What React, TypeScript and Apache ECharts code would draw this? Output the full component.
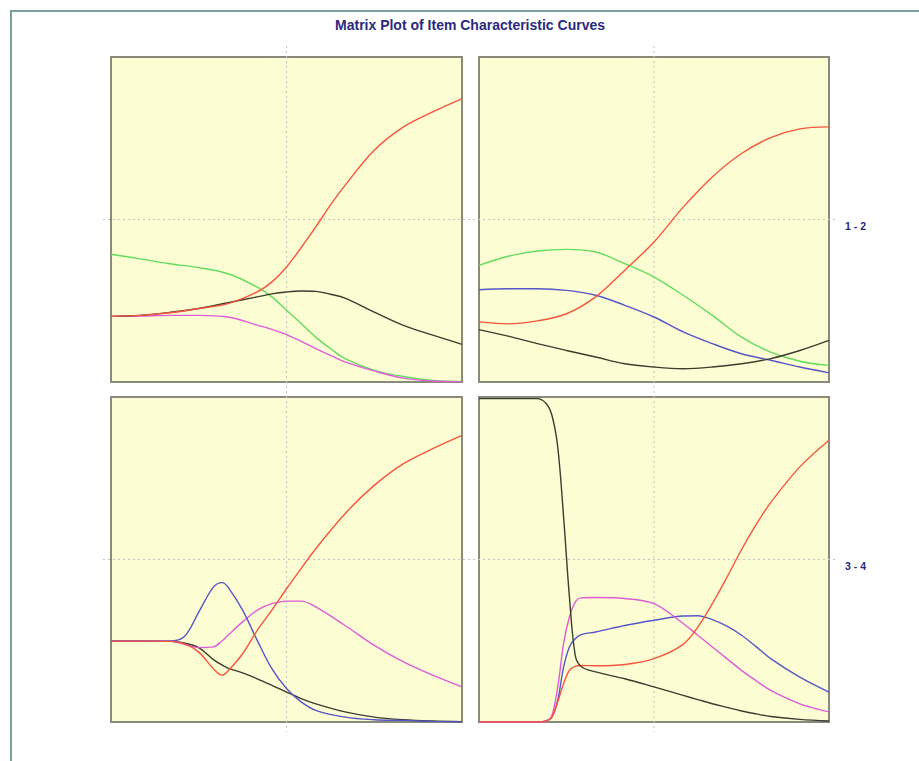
import React, { useEffect, useRef } from "react";
import * as echarts from "echarts";

// ---------- data ----------
const TITLE = "Matrix Plot of Item Characteristic Curves";
const ROW_LABELS = ["1 - 2", "3 - 4"];

// Panel 1 (top-left)
const P1_X = [-3, -2.5, -2, -1.5, -1, -0.5, -0.25, 0, 0.25, 0.5, 0.75, 1, 1.5, 2, 2.5, 3];
const P1_RED = [0.202, 0.205, 0.213, 0.226, 0.241, 0.277, 0.308, 0.354, 0.413, 0.477, 0.544, 0.605, 0.713, 0.785, 0.831, 0.872];
const P1_GREEN = [0.393, 0.379, 0.364, 0.352, 0.333, 0.292, 0.262, 0.221, 0.18, 0.138, 0.103, 0.072, 0.036, 0.017, 0.005, 0.002];
const P1_BLACK = [0.202, 0.205, 0.214, 0.226, 0.244, 0.262, 0.271, 0.277, 0.28, 0.279, 0.27, 0.258, 0.215, 0.174, 0.144, 0.116];
const P1_MAGENTA = [0.202, 0.203, 0.205, 0.205, 0.2, 0.175, 0.162, 0.146, 0.125, 0.103, 0.082, 0.062, 0.034, 0.012, 0.003, 0.0];

// Panel 2 (top-right)
const P2_X = [-3, -2.5, -2, -1.5, -1, -0.5, 0, 0.5, 1, 1.5, 2, 2.5, 3];
const P2_RED = [0.185, 0.179, 0.188, 0.21, 0.262, 0.344, 0.431, 0.538, 0.631, 0.703, 0.752, 0.779, 0.785];
const P2_GREEN = [0.359, 0.387, 0.403, 0.408, 0.4, 0.364, 0.323, 0.267, 0.205, 0.138, 0.092, 0.064, 0.051];
const P2_BLUE = [0.284, 0.287, 0.287, 0.282, 0.267, 0.236, 0.2, 0.154, 0.118, 0.087, 0.067, 0.046, 0.028];
const P2_BLACK = [0.161, 0.141, 0.118, 0.097, 0.077, 0.056, 0.046, 0.041, 0.046, 0.056, 0.072, 0.097, 0.128];

// Panel 3 (bottom-left)
const P3_X = [-3, -2.5, -2, -1.75, -1.5, -1.25, -1.1, -1, -0.75, -0.5, -0.25, 0, 0.25, 0.5, 1, 1.5, 2, 2.5, 3];
const P3_RED = [0.249, 0.249, 0.248, 0.241, 0.215, 0.164, 0.144, 0.157, 0.21, 0.282, 0.344, 0.41, 0.472, 0.533, 0.641, 0.728, 0.795, 0.841, 0.882];
const P3_BLUE = [0.249, 0.249, 0.249, 0.262, 0.338, 0.415, 0.429, 0.415, 0.344, 0.251, 0.164, 0.103, 0.062, 0.036, 0.015, 0.007, 0.005, 0.002, 0.0];
const P3_MAGENTA = [0.249, 0.249, 0.249, 0.239, 0.229, 0.231, 0.25, 0.267, 0.308, 0.344, 0.364, 0.372, 0.372, 0.354, 0.297, 0.236, 0.185, 0.144, 0.108];
const P3_BLACK = [0.249, 0.249, 0.249, 0.243, 0.229, 0.192, 0.175, 0.166, 0.151, 0.133, 0.113, 0.092, 0.072, 0.056, 0.031, 0.015, 0.007, 0.003, 0.001];

// Panel 4 (bottom-right)
const P4_X = [-3, -2.5, -2, -1.85, -1.75, -1.65, -1.55, -1.45, -1.35, -1.25, -1, -0.5, 0, 0.5, 0.75, 1, 1.25, 1.5, 1.75, 2, 2.5, 3];
const P4_BLACK = [0.995, 0.995, 0.995, 0.98, 0.944, 0.846, 0.631, 0.385, 0.205, 0.171, 0.154, 0.133, 0.108, 0.082, 0.069, 0.056, 0.045, 0.034, 0.025, 0.017, 0.008, 0.003];
const P4_RED = [0.0, 0.0, 0.0, 0.003, 0.015, 0.062, 0.118, 0.159, 0.171, 0.174, 0.173, 0.177, 0.195, 0.239, 0.292, 0.364, 0.445, 0.53, 0.607, 0.675, 0.785, 0.867];
const P4_MAGENTA = [0.0, 0.0, 0.0, 0.003, 0.02, 0.108, 0.241, 0.323, 0.369, 0.382, 0.383, 0.38, 0.364, 0.303, 0.267, 0.231, 0.195, 0.159, 0.127, 0.097, 0.056, 0.031];
const P4_BLUE = [0.0, 0.0, 0.0, 0.003, 0.015, 0.067, 0.169, 0.231, 0.256, 0.269, 0.277, 0.297, 0.313, 0.326, 0.327, 0.315, 0.295, 0.267, 0.232, 0.195, 0.138, 0.092];

// ---------- styles ----------
const C_RED = "#f4553f";
const C_GREEN = "#62dc5c";
const C_BLUE = "#5656c8";
const C_MAGENTA = "#de5cd8";
const C_BLACK = "#3c3c30";
const PANEL_BG = "#fdfdd3";
const PANEL_BORDER = "#8a8a7c";
const NAVY = "#2a2a7e";

const GRIDS = [
  { left: 111, top: 57, width: 351, height: 325 },
  { left: 479, top: 57, width: 350, height: 325 },
  { left: 111, top: 397, width: 351, height: 325 },
  { left: 479, top: 397, width: 350, height: 325 },
];

const pairs = (xs: number[], ys: number[]) => xs.map((x, i) => [x, ys[i]]);

const PANELS: { x: number[]; lines: { y: number[]; color: string }[] }[] = [
  {
    x: P1_X,
    lines: [
      { y: P1_GREEN, color: C_GREEN },
      { y: P1_MAGENTA, color: C_MAGENTA },
      { y: P1_BLACK, color: C_BLACK },
      { y: P1_RED, color: C_RED },
    ],
  },
  {
    x: P2_X,
    lines: [
      { y: P2_GREEN, color: C_GREEN },
      { y: P2_BLUE, color: C_BLUE },
      { y: P2_BLACK, color: C_BLACK },
      { y: P2_RED, color: C_RED },
    ],
  },
  {
    x: P3_X,
    lines: [
      { y: P3_BLACK, color: C_BLACK },
      { y: P3_MAGENTA, color: C_MAGENTA },
      { y: P3_BLUE, color: C_BLUE },
      { y: P3_RED, color: C_RED },
    ],
  },
  {
    x: P4_X,
    lines: [
      { y: P4_BLUE, color: C_BLUE },
      { y: P4_MAGENTA, color: C_MAGENTA },
      { y: P4_RED, color: C_RED },
      { y: P4_BLACK, color: C_BLACK },
    ],
  },
];

export default function App() {
  const ref = useRef<HTMLDivElement>(null);

  useEffect(() => {
    if (!ref.current) return;
    const chart = echarts.init(ref.current, undefined, { renderer: "svg" });

    const series: any[] = [];
    PANELS.forEach((p, gi) => {
      p.lines.forEach((l) => {
        series.push({
          type: "line",
          xAxisIndex: gi,
          yAxisIndex: gi,
          data: pairs(p.x, l.y),
          smooth: 0.35,
          showSymbol: false,
          symbol: "none",
          lineStyle: { color: l.color, width: 1.4 },
          z: 3,
        });
      });
    });

    const dot = { stroke: "#c4c4c0", lineWidth: 1, lineDash: [2, 3] };
    const gridLines: any[] = [];
    [GRIDS[0], GRIDS[1]].forEach((g) => {
      const cx = g.left + g.width / 2;
      gridLines.push({ type: "line", z: 1, shape: { x1: cx, y1: 46, x2: cx, y2: 732 }, style: dot });
    });
    [GRIDS[0], GRIDS[2]].forEach((g) => {
      const cy = g.top + g.height / 2;
      gridLines.push({ type: "line", z: 1, shape: { x1: 103, y1: cy, x2: 838, y2: cy }, style: dot });
    });

    chart.setOption({
      animation: false,
      backgroundColor: "#ffffff",
      grid: GRIDS.map((g) => ({
        ...g,
        show: true,
        backgroundColor: PANEL_BG,
        borderColor: PANEL_BORDER,
        borderWidth: 2,
        containLabel: false,
      })),
      xAxis: GRIDS.map((_, i) => ({
        type: "value",
        gridIndex: i,
        min: -3,
        max: 3,
        interval: 3,
        axisLine: { show: false },
        axisTick: { show: false },
        axisLabel: { show: false },
        splitLine: { show: false },
      })),
      yAxis: GRIDS.map((_, i) => ({
        type: "value",
        gridIndex: i,
        min: 0,
        max: 1,
        interval: 0.5,
        axisLine: { show: false },
        axisTick: { show: false },
        axisLabel: { show: false },
        splitLine: { show: false },
      })),
      graphic: [
        { type: "line", z: 5, shape: { x1: 10, y1: 11, x2: 919, y2: 11 }, style: { stroke: "#79a09c", lineWidth: 2 } },
        { type: "line", z: 5, shape: { x1: 11, y1: 10, x2: 11, y2: 761 }, style: { stroke: "#79a09c", lineWidth: 2 } },
        ...gridLines,
        {
          type: "text",
          z: 5,
          x: 470,
          y: 25,
          style: {
            text: TITLE,
            textAlign: "center",
            textVerticalAlign: "middle",
            fontSize: 14,
            fontWeight: "bold",
            fontFamily: "Liberation Sans, Arial, sans-serif",
            fill: NAVY,
          },
        },
        ...ROW_LABELS.map((t, i) => ({
          type: "text",
          z: 5,
          x: 845,
          y: i === 0 ? 226 : 566,
          style: {
            text: t,
            textAlign: "left",
            textVerticalAlign: "middle",
            fontSize: 10.5,
            fontWeight: "bold",
            fontFamily: "Liberation Sans, Arial, sans-serif",
            fill: NAVY,
          },
        })),
      ],
      series,
    });

    return () => chart.dispose();
  }, []);

  return (
    <div
      ref={ref}
      style={{ position: "absolute", left: 0, top: 0, width: 919, height: 761 }}
    />
  );
}
